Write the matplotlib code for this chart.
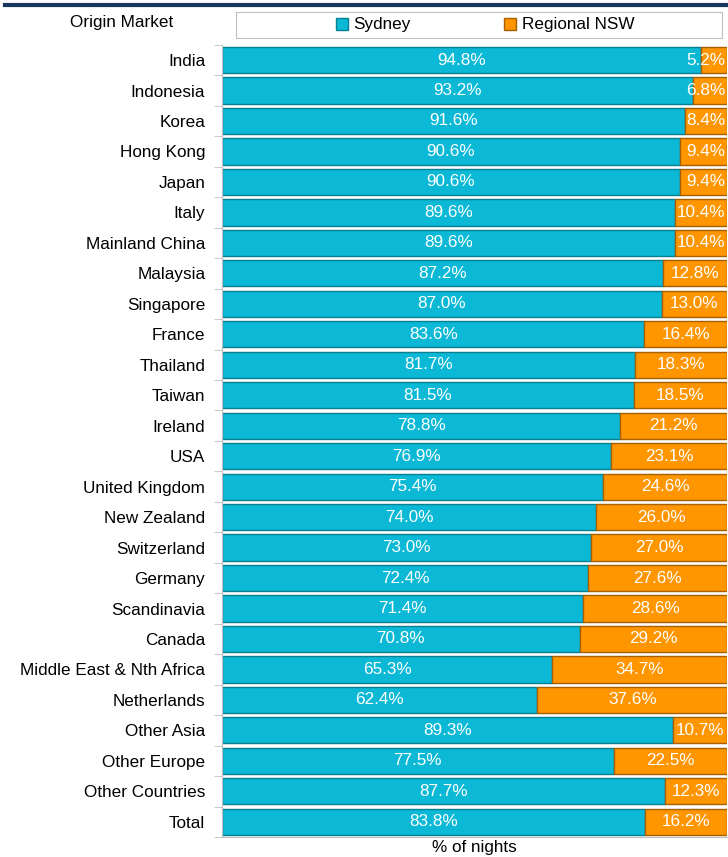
import matplotlib
matplotlib.use("Agg")
import matplotlib.pyplot as plt
import numpy as np
from matplotlib.patches import Rectangle
from matplotlib.lines import Line2D

SYDNEY = "#0BB9D6"
SYDNEY_EDGE = "#067F93"
REGIONAL = "#FF9600"
REGIONAL_EDGE = "#A85F00"
NAVY = "#17375E"

markets = [
    "India", "Indonesia", "Korea", "Hong Kong", "Japan", "Italy", "Mainland China",
    "Malaysia", "Singapore", "France", "Thailand", "Taiwan", "Ireland", "USA",
    "United Kingdom", "New Zealand", "Switzerland", "Germany", "Scandinavia", "Canada",
    "Middle East & Nth Africa", "Netherlands", "Other Asia", "Other Europe",
    "Other Countries", "Total",
]
sydney = [94.8, 93.2, 91.6, 90.6, 90.6, 89.6, 89.6, 87.2, 87.0, 83.6, 81.7, 81.5,
          78.8, 76.9, 75.4, 74.0, 73.0, 72.4, 71.4, 70.8, 65.3, 62.4, 89.3, 77.5,
          87.7, 83.8]
regional = [5.2, 6.8, 8.4, 9.4, 9.4, 10.4, 10.4, 12.8, 13.0, 16.4, 18.3, 18.5,
            21.2, 23.1, 24.6, 26.0, 27.0, 27.6, 28.6, 29.2, 34.7, 37.6, 10.7, 22.5,
            12.3, 16.2]

plt.rcParams["font.family"] = ["Liberation Sans", "DejaVu Sans"]
FS = 12.3

fig = plt.figure(figsize=(7.28, 8.57), dpi=100)
ax = fig.add_axes([0.305, 0.0233, 0.694, 0.9244])

y = np.arange(len(markets))
syd = np.array(sydney)
reg = np.array(regional)
ax.barh(y, syd, height=0.86, color=SYDNEY, edgecolor=SYDNEY_EDGE, linewidth=1.0)
ax.barh(y, reg, left=syd, height=0.86, color=REGIONAL, edgecolor=REGIONAL_EDGE, linewidth=1.0)

for yi, s, r in zip(y, syd, reg):
    ax.text(s / 2, yi, f"{s:.1f}%", ha="center", va="center", color="white", fontsize=FS)
    if r < 10:
        ax.text(s + r - 0.4, yi, f"{r:.1f}%", ha="right", va="center", color="white", fontsize=FS)
    else:
        ax.text(s + r / 2, yi, f"{r:.1f}%", ha="center", va="center", color="white", fontsize=FS)

ax.set_xlim(0, 100)
ax.set_ylim(len(markets) - 0.5, -0.5)
ax.set_yticks(y, markets, fontsize=FS)
ax.set_yticks(np.arange(len(markets) + 1) - 0.5, minor=True)
ax.tick_params(axis="y", which="major", length=0, pad=12)
ax.tick_params(axis="y", which="minor", length=6, color="#BFBFBF", direction="out")
ax.set_xticks([])
ax.set_xlabel("% of nights", fontsize=FS, labelpad=2)
for side in ["top", "right"]:
    ax.spines[side].set_visible(False)
ax.spines["left"].set_color("#BFBFBF")
ax.spines["bottom"].set_color("#BFBFBF")

# header: navy rule, column title and legend box
fig.add_artist(Line2D([5 / 728, 1.0], [1 - 5 / 857, 1 - 5 / 857], color=NAVY, linewidth=3))
fig.text(122 / 728, 1 - 22 / 857, "Origin Market", ha="center", va="center", fontsize=FS)
fig.add_artist(Rectangle((236 / 728, 1 - 38 / 857), 486 / 728, 26 / 857,
                         transform=fig.transFigure, facecolor="white", edgecolor="#BFBFBF",
                         linewidth=0.8))
handles = [Rectangle((0, 0), 1, 1, facecolor=SYDNEY, edgecolor=SYDNEY_EDGE),
           Rectangle((0, 0), 1, 1, facecolor=REGIONAL, edgecolor=REGIONAL_EDGE)]
fig.legend(handles, ["Sydney", "Regional NSW"], loc="center", ncol=2,
           bbox_to_anchor=(485 / 728, 1 - 25 / 857), frameon=False, fontsize=FS,
           handlelength=0.7, handleheight=0.7, handletextpad=0.3, columnspacing=5.5)

fig.savefig("out.png", dpi=100)
